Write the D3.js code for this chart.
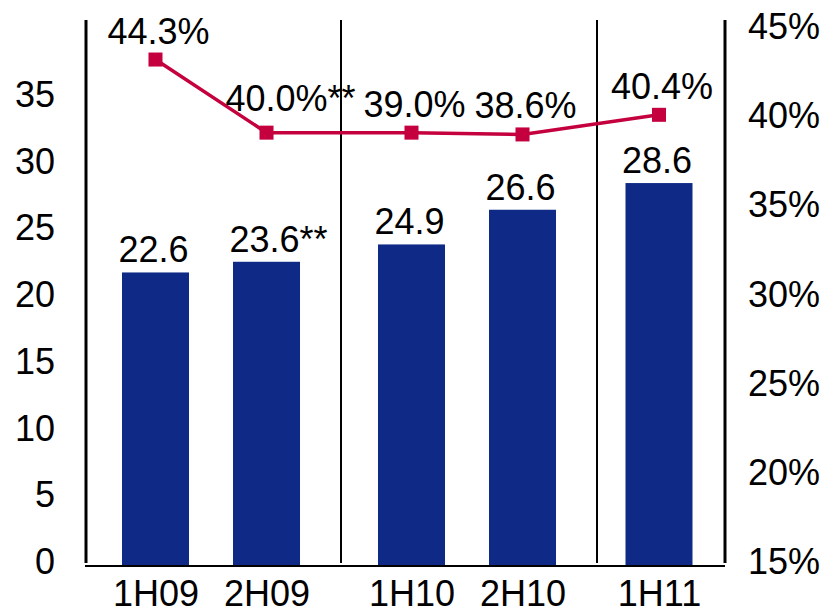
<!DOCTYPE html>
<html>
<head>
  <meta charset="utf-8">
  <title>Half-year bars with margin line</title>
  <script src="https://d3js.org/d3.v7.min.js"></script>
  <style>
    body { margin: 0; background: #fff; }
    text { font-family: "Liberation Sans", Arial, Helvetica, sans-serif; fill: #000; }
    .bar { fill: #0f2a86; }
  </style>
</head>
<body>

  <svg width="825" height="615"></svg>

  <script>
    // Data
    const groups = [["1H09", "2H09"], ["1H10", "2H10"], ["1H11"]];
    const categories = groups.flat();
    const barValues = [22.0, 22.8, 24.1, 26.7, 28.7];          // bar heights as drawn
    const barLabels = ["22.6", "23.6", "24.9", "26.6", "28.6"];
    const barNotes = ["", "**", "", "", ""];
    const lineValues = [43.4, 39.3, 39.3, 39.2, 40.3];          // marker heights as drawn
    const lineLabels = ["44.3%", "40.0%", "39.0%", "38.6%", "40.4%"];
    const lineNotes = ["", "**", "", "", ""];
    const leftTicks = [0, 5, 10, 15, 20, 25, 30, 35];
    const rightTicks = [15, 20, 25, 30, 35, 40, 45];

    const margin = { left: 85, right: 725, top: 20, bottom: 566 };
    const barWidth = 67;

    const svg = d3.select("svg");

    // Vertical scales
    const yLeft = d3.scaleLinear().domain([0, 35]).range([margin.bottom, 99]);
    const yRight = d3.scaleLinear().domain([15, 45]).range([margin.bottom, 31]);

    // Horizontal: groups take slots, bars placed by a band scale inside each group
    const nSlots = d3.sum(groups, g => g.length);
    const xSlot = d3.scaleLinear().domain([0, nSlots]).range([margin.left - 2, margin.right - 2]);

    const center = {};
    const bounds = [];
    let start = 0;
    groups.forEach(g => {
      const band = d3.scaleBand()
        .domain(g)
        .range([xSlot(start), xSlot(start + g.length)])
        .paddingInner(0.396)
        .paddingOuter(0.351);
      g.forEach(c => { center[c] = band(c) + band.bandwidth() / 2; });
      start += g.length;
      bounds.push(xSlot(start));
    });
    const xCat = d3.scaleOrdinal().domain(categories).range(categories.map(c => center[c]));

    // Group separators
    svg.selectAll(".sep")
      .data(bounds.slice(0, -1))
      .enter()
      .append("line")
      .attr("x1", d => d + 2).attr("x2", d => d + 2)
      .attr("y1", margin.top).attr("y2", margin.bottom - 3)
      .attr("stroke", "#000")
      .attr("stroke-width", 2);

    // Bars
    svg.selectAll(".bar")
      .data(barValues)
      .enter()
      .append("rect")
      .attr("class", "bar")
      .attr("x", (d, i) => xCat(categories[i]) - barWidth / 2)
      .attr("y", d => yLeft(d))
      .attr("width", barWidth)
      .attr("height", d => yLeft(0) - yLeft(d));

    // Label helper: number centred, note trailing after it
    function addLabel(x, y, main, note) {
      const t = svg.append("text")
        .attr("x", x).attr("y", y)
        .attr("text-anchor", "middle")
        .style("font-size", "36px")
        .text(main);
      if (note) {
        const w = t.node().getComputedTextLength();
        svg.append("text")
          .attr("x", x + w / 2).attr("y", y)
          .style("font-size", "36px")
          .text(note);
      }
    }

    barValues.forEach((d, i) => {
      addLabel(xCat(categories[i]) - 2, yLeft(d) - 10, barLabels[i], barNotes[i]);
    });

    // Margin line with square markers
    const line = d3.line()
      .x((d, i) => xCat(categories[i]))
      .y(d => yRight(d));

    svg.append("path")
      .datum(lineValues)
      .attr("fill", "none")
      .attr("stroke", "#c4003e")
      .attr("stroke-width", 3.5)
      .attr("d", line);

    svg.selectAll(".marker")
      .data(lineValues)
      .enter()
      .append("rect")
      .attr("x", (d, i) => xCat(categories[i]) - 7)
      .attr("y", d => yRight(d) - 7)
      .attr("width", 14)
      .attr("height", 14)
      .attr("fill", "#c4003e");

    lineValues.forEach((d, i) => {
      const dy = lineNotes[i] ? 22 : 16;
      const dx = lineNotes[i] ? 10 : 3;
      addLabel(xCat(categories[i]) + dx, yRight(d) - dy, lineLabels[i], lineNotes[i]);
    });

    // Axes
    const gLeft = svg.append("g")
      .attr("transform", `translate(${margin.left},0)`)
      .call(d3.axisLeft(yLeft).tickValues(leftTicks).tickSize(0).tickPadding(30));
    gLeft.select(".domain").remove();

    const gRight = svg.append("g")
      .attr("transform", `translate(${margin.right},0)`)
      .call(d3.axisRight(yRight).tickValues(rightTicks).tickSize(0).tickPadding(23)
        .tickFormat(d => d + "%"));
    gRight.select(".domain").remove();

    [gLeft, gRight].forEach(g => {
      g.selectAll("text")
        .attr("dy", "0.21em")
        .style("font-size", "36px")
        .style("font-family", "'Liberation Sans', Arial, sans-serif");
    });

    const gBottom = svg.append("g")
      .attr("transform", `translate(0,${margin.bottom})`)
      .call(d3.axisBottom(xCat).tickSize(0).tickPadding(14));
    gBottom.select(".domain").remove();
    gBottom.selectAll("text")
      .style("font-size", "36px")
      .style("font-family", "'Liberation Sans', Arial, sans-serif");

    // Axis lines
    svg.append("line")
      .attr("x1", margin.left + 1).attr("x2", margin.left + 1)
      .attr("y1", margin.top).attr("y2", margin.bottom - 3)
      .attr("stroke", "#000").attr("stroke-width", 3);
    svg.append("line")
      .attr("x1", margin.right).attr("x2", margin.right)
      .attr("y1", margin.top).attr("y2", margin.bottom - 3)
      .attr("stroke", "#000").attr("stroke-width", 3);
    svg.append("line")
      .attr("x1", margin.left).attr("x2", margin.right)
      .attr("y1", margin.bottom).attr("y2", margin.bottom)
      .attr("stroke", "#000").attr("stroke-width", 2);
  </script>

</body>
</html>
